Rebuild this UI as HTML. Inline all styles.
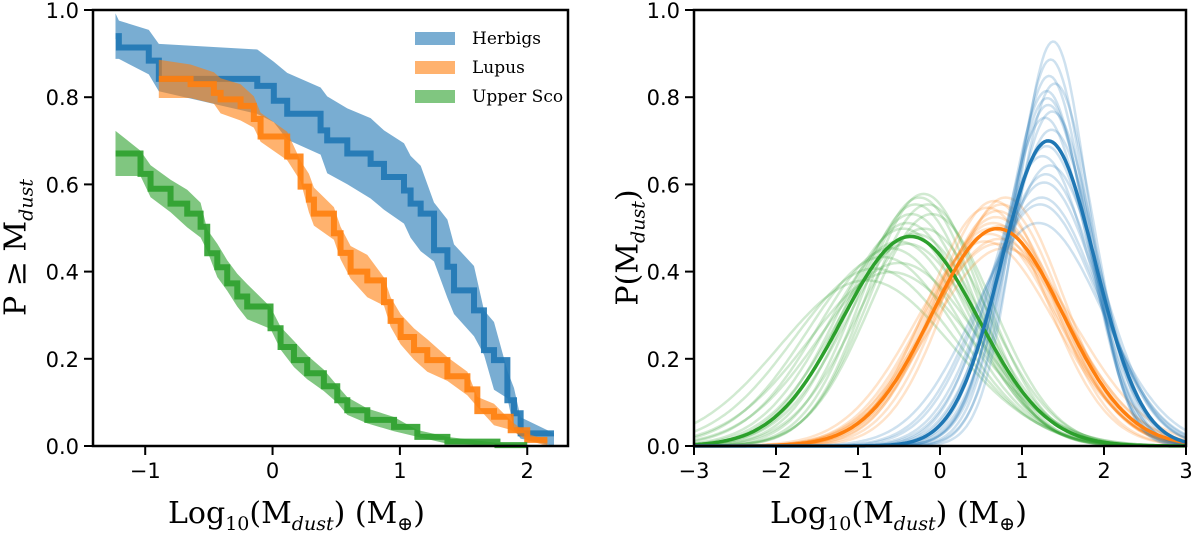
<!DOCTYPE html>
<html><head><meta charset="utf-8"><style>
body{margin:0;background:#fff;}
svg{display:block;font-family:"DejaVu Serif","Liberation Serif",serif;}
.tk{font-family:"DejaVu Sans","Liberation Sans",sans-serif;font-size:21px;fill:#000;}
</style></head><body>
<svg id="c" width="1200" height="541" viewBox="0 0 1200 541">
<g id="L"></g>
<g id="R"></g>
</svg>
<script>
// ---- Left panel: cumulative step data (x breakpoints, levels) ----
const herbigX=[-1.233,-1.207,-0.972,-0.893,-0.120,0.010,0.115,0.377,0.429,0.587,0.770,0.875,1.032,1.084,1.163,1.268,1.373,1.425,1.582,1.660,1.739,1.844,1.896,1.948,2.210];
const herbigY=[0.94,0.914,0.884,0.842,0.826,0.792,0.762,0.724,0.701,0.671,0.647,0.617,0.586,0.556,0.533,0.449,0.411,0.357,0.311,0.220,0.197,0.105,0.075,0.029];
const lupusX=[-0.893,-0.644,-0.461,-0.408,-0.251,-0.147,-0.094,0.115,0.220,0.285,0.325,0.482,0.534,0.613,0.744,0.875,0.927,1.006,1.111,1.215,1.373,1.530,1.608,1.739,1.870,2.0,2.158];
const lupusY=[0.842,0.83,0.81,0.795,0.78,0.75,0.71,0.664,0.595,0.565,0.533,0.488,0.443,0.40,0.38,0.33,0.287,0.25,0.22,0.197,0.16,0.13,0.08,0.067,0.036,0.014];
const uscoX=[-1.233,-1.037,-0.958,-0.801,-0.670,-0.565,-0.513,-0.434,-0.356,-0.277,-0.199,-0.016,0.063,0.168,0.272,0.403,0.508,0.587,0.744,0.954,1.137,1.373,1.766,2.0];
const uscoY=[0.671,0.624,0.59,0.556,0.533,0.503,0.442,0.41,0.373,0.343,0.32,0.27,0.227,0.197,0.167,0.137,0.105,0.082,0.06,0.044,0.021,0.01,0.002];
const bandHalf=[0.11,0.06,0.055];
const legendLabels=["Herbigs","Lupus","Upper Sco"];
const leftXTicks=[-1,0,1,2];
const yTicks=[0,0.2,0.4,0.6,0.8,1.0];
// ---- Right panel: main fits [mu, sigma] and posterior samples ----
const mainFits=[[-0.36,0.83],[0.70,0.80],[1.32,0.57]];
const uscoSamples=[[-0.9,1.05],[-0.8,0.98],[-0.7,0.92],[-0.6,0.88],[-0.5,0.85],[-0.45,0.8],[-0.4,0.78],[-0.35,0.75],[-0.3,0.72],[-0.25,0.70],[-0.2,0.69],[-0.15,0.72],[-0.3,0.82],[-0.5,0.95],[-0.6,1.0],[-0.1,0.75],[-0.4,0.86],[-0.2,0.8]];
const lupusSamples=[[0.55,0.85],[0.6,0.82],[0.65,0.78],[0.7,0.74],[0.75,0.72],[0.8,0.70],[0.68,0.76],[0.62,0.80],[0.72,0.84],[0.78,0.88],[0.58,0.73],[0.66,0.71],[0.74,0.79],[0.7,0.86]];
const herbigSamples=[[1.38,0.43],[1.35,0.45],[1.33,0.47],[1.30,0.49],[1.32,0.51],[1.28,0.53],[1.36,0.55],[1.3,0.58],[1.25,0.6],[1.34,0.62],[1.27,0.66],[1.22,0.72],[1.2,0.78],[1.4,0.48],[1.31,0.5],[1.29,0.64],[1.37,0.52],[1.24,0.70]];
const rightXTicks=[-3,-2,-1,0,1,2,3];

const NS="http://www.w3.org/2000/svg";
const colors=["#1f77b4","#ff7f0e","#2ca02c"];
function mk(tag,attrs,parent){const e=document.createElementNS(NS,tag);for(const k in attrs)e.setAttribute(k,attrs[k]);parent.appendChild(e);return e;}
const yTop=10,bot=446;
const ys=v=>bot-(bot-yTop)*v;
const lx0=93,lx1=568,lxmin=-1.41,lxmax=2.32;
const lxs=v=>lx0+(v-lxmin)/(lxmax-lxmin)*(lx1-lx0);
const rx0=694,rx1=1186;
const rxs=v=>rx0+(v+3)/6*(rx1-rx0);
const L=document.getElementById('L'),R=document.getElementById('R');

const series=[[herbigX,herbigY],[lupusX,lupusY],[uscoX,uscoY]];
series.forEach((s,i)=>{
  const [X,Y]=s;
  let up=[],lo=[];
  for(let j=0;j<Y.length;j++){
    const w=bandHalf[i]*Math.sqrt(Math.max(Y[j]*(1-Y[j]),0.0))*2;
    up.push([X[j],Math.min(Y[j]+w,1)]);
    lo.push([X[j+1],Math.max(Y[j]-w,0)]);
  }
  up.push([X[Y.length],Math.max(Y[Y.length-1],0)]);
  lo.unshift([X[0],Math.max(Y[0]-bandHalf[i]*Math.sqrt(Y[0]*(1-Y[0]))*2,0)]);
  const pts=up.concat(lo.reverse()).map(p=>lxs(p[0]).toFixed(1)+','+ys(p[1]).toFixed(1)).join(' ');
  const b=mk('polygon',{points:pts,fill:colors[i],'fill-opacity':0.6},L);
  
  
  let d='M'+lxs(X[0])+','+ys(Y[0]);
  for(let j=0;j<Y.length;j++){d+=' L'+lxs(X[j+1])+','+ys(Y[j]);if(j+1<Y.length)d+=' L'+lxs(X[j+1])+','+ys(Y[j+1]);}
  const ln=mk('path',{d:d,fill:'none',stroke:colors[i],'stroke-width':6,'stroke-opacity':0.9},L);
  
  
});
legendLabels.forEach((t,i)=>{
  const y=32+i*29;
  const r=mk('rect',{x:415,y:y,width:40,height:13,fill:colors[i],'fill-opacity':0.6},L);
  
  
  const tx=mk('text',{x:472,y:y+12,'font-size':17},L);tx.textContent=t;
  
  
});

const pdf=(x,m,s)=>Math.exp(-0.5*((x-m)/s)**2)/(s*Math.sqrt(2*Math.PI));
function curve(m,s){let d='';for(let k=0;k<=240;k++){const x=-3+6*k/240;d+=(k?' L':'M')+rxs(x).toFixed(1)+','+ys(pdf(x,m,s)).toFixed(1);}return d;}
[uscoSamples,lupusSamples,herbigSamples].forEach((arr,ii)=>{
  const ci=[2,1,0][ii];
  arr.forEach(p=>{
    const c=mk('path',{d:curve(p[0],p[1]),fill:'none',stroke:colors[ci],'stroke-width':2.5,'stroke-opacity':0.22},R);
    
    
  });
});
mainFits.forEach((p,i)=>{
  const ci=[2,1,0][i];
  const c=mk('path',{d:curve(p[0],p[1]),fill:'none',stroke:colors[ci],'stroke-width':3.5},R);
  
  
});

function axes(g,x0,x1,xt,xsf){
  const f=mk('rect',{x:x0,y:yTop,width:x1-x0,height:bot-yTop,fill:'none',stroke:'#000','stroke-width':2.5},g);
  
  
  xt.forEach(v=>{
    const X=xsf(v);
    mk('line',{x1:X,x2:X,y1:bot,y2:bot+9,stroke:'#000','stroke-width':2},g);
    const t=mk('text',{x:X,y:bot+32,'text-anchor':'middle',class:'tk'},g);t.textContent=(v<0?'\u2212'+(-v):v);
    
    
  });
  yTicks.forEach(v=>{
    const Y=ys(v);
    mk('line',{x1:x0,x2:x0-9,y1:Y,y2:Y,stroke:'#000','stroke-width':2},g);
    const t=mk('text',{x:x0-14,y:Y+8,'text-anchor':'end',class:'tk'},g);t.textContent=v.toFixed(1);
    
    
  });
}
axes(L,lx0,lx1,leftXTicks,lxs);
axes(R,rx0,rx1,rightXTicks,rxs);
</script>
<div style="position:absolute;left:0;top:0;width:1200px;height:541px;pointer-events:none;font-family:'DejaVu Serif','Liberation Serif',serif;">
<div style="position:absolute;left:168px;top:496px;font-size:30px;white-space:nowrap;">Log<sub style="font-size:19px">10</sub>(M<sub style="font-size:19px;font-style:italic">dust</sub>) (M<sub style="font-size:19px">⊕</sub>)</div>
<div style="position:absolute;left:770px;top:496px;font-size:30px;white-space:nowrap;">Log<sub style="font-size:19px">10</sub>(M<sub style="font-size:19px;font-style:italic">dust</sub>) (M<sub style="font-size:19px">⊕</sub>)</div>
<div style="position:absolute;left:4px;top:228px;font-size:30px;white-space:nowrap;transform:translate(-50%,0) rotate(-90deg);transform-origin:50% 50%;margin-left:14px;">P ≥ M<sub style="font-size:19px;font-style:italic">dust</sub></div>
<div style="position:absolute;left:630px;top:228px;font-size:30px;white-space:nowrap;transform:translate(-50%,0) rotate(-90deg);transform-origin:50% 50%;">P(M<sub style="font-size:19px;font-style:italic">dust</sub>)</div>
</div>
</body></html>
